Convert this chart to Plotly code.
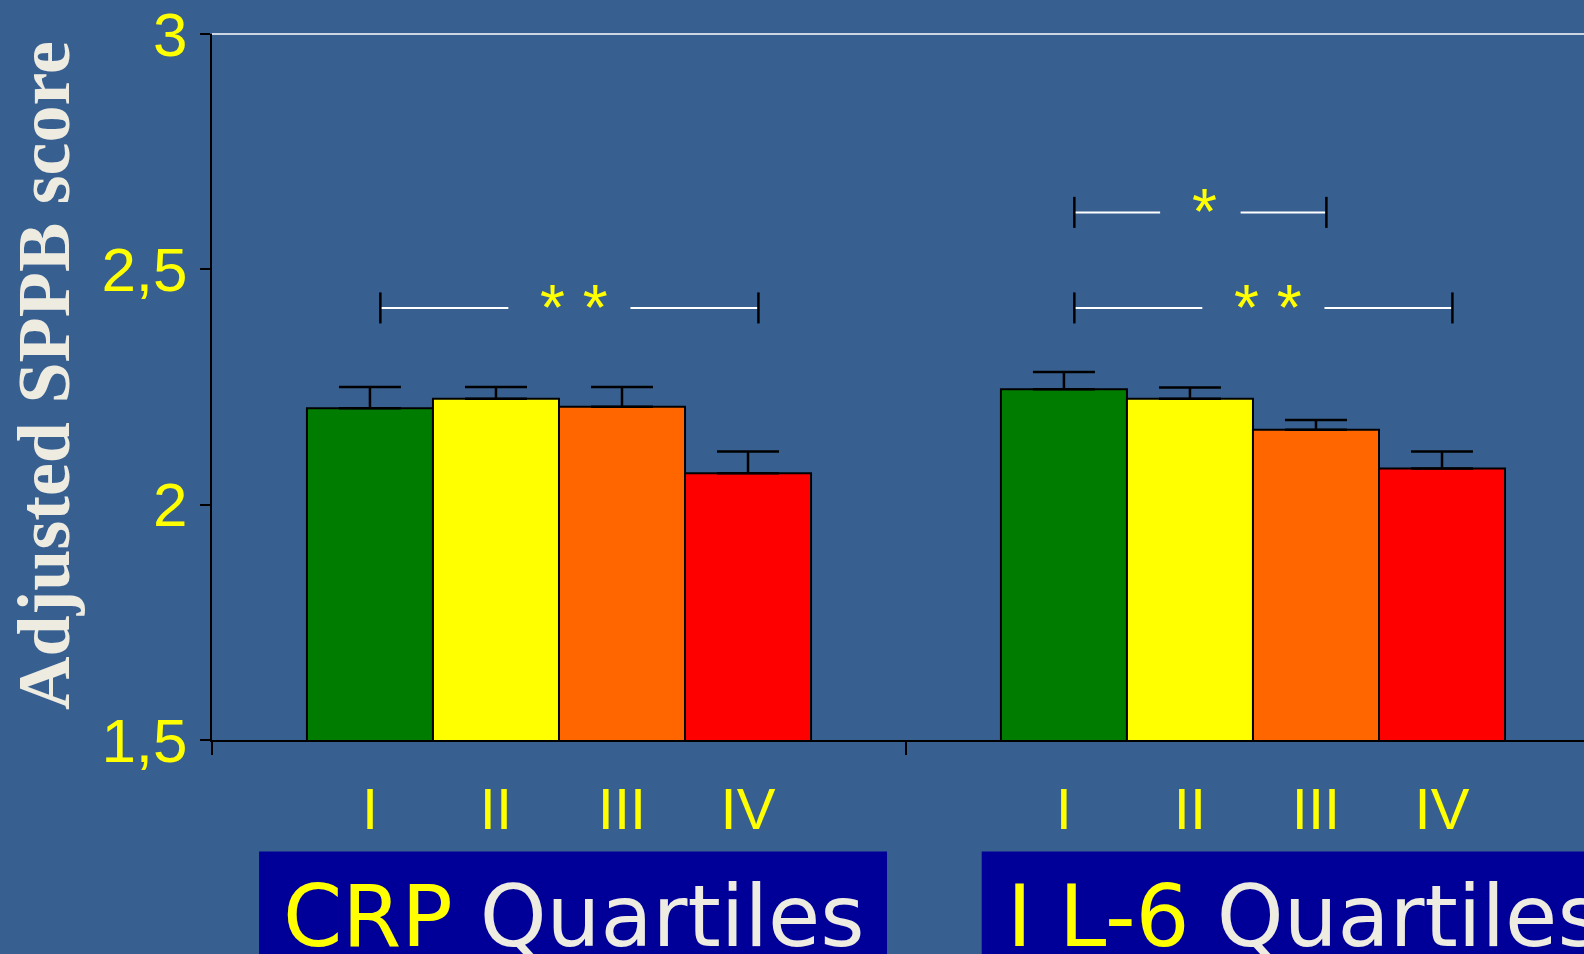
import plotly.graph_objects as go

# Adjusted SPPB score by inflammatory-marker quartile
quartiles = ["I", "II", "III", "IV"]
group_names = ["CRP", "IL-6"]
group_centers = [0.5, 1.5]
crp_means = [2.205, 2.225, 2.208, 2.067]
crp_err = [0.045, 0.025, 0.042, 0.046]
il6_means = [2.245, 2.225, 2.159, 2.077]
il6_err = [0.037, 0.024, 0.021, 0.036]

# significance brackets: group index, first/last quartile index, height, label
sig_group = [0, 1, 1]
sig_from = [0, 0, 0]
sig_to = [3, 2, 3]
sig_level = [2.418, 2.621, 2.418]
sig_label = ["* *", "*", "* *"]

bar_colors = ["#007D00", "#FFFF00", "#FF6600", "#FF0000"]
BG = "#376091"
OFFWHITE = "#EEEBE1"
YELLOW = "#FFFF00"
SANS = "Liberation Sans, Arial, sans-serif"
CAPTION = "DejaVu Sans, Verdana, sans-serif"

bar_w = 0.1816              # width of one bar in group units
y_range = [1.5, 3.0]
x_range = [0.0, 1.977]

fig = go.Figure()
for q in range(4):
    fig.add_trace(go.Bar(
        x=group_centers,
        y=[crp_means[q], il6_means[q]],
        name=quartiles[q],
        marker=dict(color=bar_colors[q], line=dict(color="black", width=2)),
        error_y=dict(type="data", array=[crp_err[q], il6_err[q]],
                     arrayminus=[0, 0], symmetric=False,
                     color="black", thickness=2.5, width=31),
        showlegend=False,
    ))

# quartile label positions under each bar
tick_pos, tick_txt = [], []
for g in group_centers:
    for q in range(4):
        tick_pos.append(g + (q - 1.5) * bar_w)
        tick_txt.append(quartiles[q])

def bar_x(g, q):
    return group_centers[g] + (q - 1.5) * bar_w

shapes = [
    # white line along the top of the plotting area
    dict(type="line", xref="paper", yref="y domain", x0=0, x1=1, y0=1, y1=1,
         line=dict(color="white", width=1.5)),
    # label boxes under the two groups
    dict(type="rect", xref="paper", yref="paper", x0=0.0343, x1=0.492,
         y0=-0.158, y1=-0.32, fillcolor="#000099", line=dict(width=0), layer="below"),
    dict(type="rect", xref="paper", yref="paper", x0=0.561, x1=1.05,
         y0=-0.158, y1=-0.32, fillcolor="#000099", line=dict(width=0), layer="below"),
]
annotations = []
nudge = 0.015
tick_half = 0.033
for g, a, b, lvl, lab in zip(sig_group, sig_from, sig_to, sig_level, sig_label):
    x0 = bar_x(g, a) + nudge
    x1 = bar_x(g, b) + nudge
    mid = (x0 + x1) / 2
    half_gap = 0.058 if len(lab) == 1 else 0.088
    shapes += [
        dict(type="line", xref="x", yref="y", x0=x0, x1=mid - half_gap, y0=lvl, y1=lvl,
             line=dict(color="white", width=2)),
        dict(type="line", xref="x", yref="y", x0=mid + half_gap, x1=x1, y0=lvl, y1=lvl,
             line=dict(color="white", width=2)),
        dict(type="line", xref="x", yref="y", x0=x0, x1=x0, y0=lvl - tick_half, y1=lvl + tick_half,
             line=dict(color="black", width=2.5)),
        dict(type="line", xref="x", yref="y", x0=x1, x1=x1, y0=lvl - tick_half, y1=lvl + tick_half,
             line=dict(color="black", width=2.5)),
    ]
    annotations.append(dict(x=mid + 0.006, y=lvl, xref="x", yref="y", text=lab, showarrow=False,
                            font=dict(family=SANS, size=64, color=YELLOW),
                            xanchor="center", yanchor="middle"))

# y-axis title
annotations.append(dict(x=-0.1225, y=0.517, xref="paper", yref="paper",
                        text="<b>Adjusted SPPB score</b>", textangle=-90, showarrow=False,
                        font=dict(family="Liberation Serif, Times New Roman, serif", size=74,
                                  color=OFFWHITE),
                        xanchor="center", yanchor="middle"))
# group captions
annotations.append(dict(x=0.0503, y=-0.25, xref="paper", yref="paper",
                        text=f"<span style='color:{YELLOW}'>{group_names[0]}</span> Quartiles",
                        showarrow=False, font=dict(family=CAPTION, size=85, color=OFFWHITE),
                        xanchor="left", yanchor="middle"))
annotations.append(dict(x=0.578, y=-0.25, xref="paper", yref="paper",
                        text=f"<span style='color:{YELLOW}'>I L-6</span> Quartiles",
                        showarrow=False, font=dict(family=CAPTION, size=85, color=OFFWHITE),
                        xanchor="left", yanchor="middle"))

fig.update_layout(
    width=1584, height=954,
    margin=dict(l=212, r=0, t=34, b=214),
    paper_bgcolor=BG, plot_bgcolor=BG,
    barmode="group", bargap=1 - 4 * bar_w, bargroupgap=0,
    separators=",.",
    shapes=shapes, annotations=annotations,
    xaxis=dict(range=x_range, tickvals=tick_pos, ticktext=tick_txt, ticks="",
               showline=True, linecolor="black", linewidth=1.5, showgrid=False, zeroline=False,
               tickfont=dict(family=SANS, size=58, color=YELLOW), ticklabelstandoff=18,
               minor=dict(tickvals=[0, 1, 2], ticks="outside", ticklen=13, tickwidth=2,
                          tickcolor="black", showgrid=False)),
    yaxis=dict(range=y_range, dtick=0.5, tick0=1.5, ticks="outside", ticklen=10, tickwidth=2,
               tickcolor="black", showline=True, linecolor="black", linewidth=2,
               showgrid=False, zeroline=False, ticklabelstandoff=0,
               ticklabeloverflow="allow",
               tickfont=dict(family=SANS, size=62, color=YELLOW)),
)

fig.write_html("out.html")
